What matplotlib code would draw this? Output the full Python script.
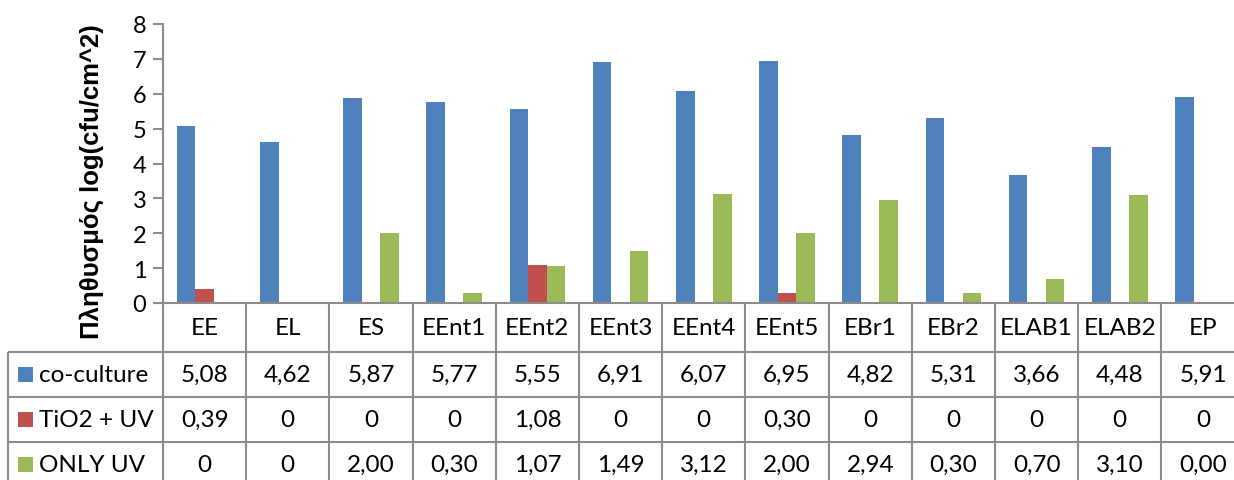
import matplotlib
matplotlib.use("Agg")
import matplotlib.pyplot as plt
from matplotlib.lines import Line2D
from matplotlib.patches import Rectangle
import numpy as np

plt.rcParams['font.family'] = ['Lato', 'Noto Sans', 'DejaVu Sans']

categories = ["EE", "EL", "ES", "EEnt1", "EEnt2", "EEnt3", "EEnt4", "EEnt5",
              "EBr1", "EBr2", "ELAB1", "ELAB2", "EP"]
series_names = ["co-culture", "TiO2 + UV", "ONLY UV"]
co_culture = ["5,08", "4,62", "5,87", "5,77", "5,55", "6,91", "6,07", "6,95",
              "4,82", "5,31", "3,66", "4,48", "5,91"]
tio2_uv = ["0,39", "0", "0", "0", "1,08", "0", "0", "0,30",
           "0", "0", "0", "0", "0"]
only_uv = ["0", "0", "2,00", "0,30", "1,07", "1,49", "3,12", "2,00",
           "2,94", "0,30", "0,70", "3,10", "0,00"]
colors = ["#4F81BD", "#C0504D", "#9BBB59"]
y_ticks = [0, 1, 2, 3, 4, 5, 6, 7, 8]
y_label = "Πληθυσμός log(cfu/cm^2)"

W, H = 1234, 481
fig = plt.figure(figsize=(W / 100, H / 100), dpi=100)

def fx(px):
    return px / W

def fy(py):
    return 1 - py / H

# plot area geometry in pixels
x0, col_w = 163, 83.2
y_top, y_base = 25, 304
n = len(categories)
x1 = x0 + n * col_w

ax = fig.add_axes([fx(x0), fy(y_base), fx(x1) - fx(x0), fy(y_top) - fy(y_base)])
ax.set_xlim(-0.5, n - 0.5)
ax.set_ylim(0, 8)

grid_c = "#8C8C8C"
series_text = [co_culture, tio2_uv, only_uv]
series_vals = [[float(s.replace(",", ".")) for s in col] for col in series_text]

bw = 1 / 4.5
x = np.arange(n)
for i, vals in enumerate(series_vals):
    ax.bar(x + (i - 1) * bw, vals, width=bw, color=colors[i], linewidth=0)

for side in ["top", "right", "bottom"]:
    ax.spines[side].set_visible(False)
ax.spines["left"].set_color(grid_c)
ax.spines["left"].set_linewidth(1.5)
ax.set_xticks([])
ax.set_yticks(y_ticks)
ax.tick_params(axis="y", length=7, width=1.5, color=grid_c, pad=5,
               labelsize=17)
ax.patch.set_alpha(0)

fig.text(fx(92), fy(182), y_label, rotation=90, ha="center", va="center",
         fontsize=18.5, fontweight="bold",
         family=["Liberation Sans", "DejaVu Sans"])

# data table below the plot
row_y = [304, 353, 398, 443, 488]
leg_x = 8
lkw = dict(color=grid_c, linewidth=1.5, transform=fig.transFigure,
           solid_capstyle="butt")
# horizontal rules
fig.add_artist(Line2D([fx(153), fx(x1)], [fy(row_y[0])] * 2, **lkw))
for yy in row_y[1:]:
    fig.add_artist(Line2D([fx(leg_x), fx(x1)], [fy(yy)] * 2, **lkw))
# vertical rules
for k in range(n + 1):
    xx = x0 + k * col_w
    fig.add_artist(Line2D([fx(xx)] * 2, [fy(row_y[0]), fy(row_y[-1])], **lkw))
fig.add_artist(Line2D([fx(leg_x)] * 2, [fy(row_y[1]), fy(row_y[-1])], **lkw))

fs = 17.5
for k, cat in enumerate(categories):
    cx = x0 + (k + 0.5) * col_w
    fig.text(fx(cx), fy((row_y[0] + row_y[1]) / 2), cat, ha="center",
             va="center", fontsize=fs)
    for r, col in enumerate(series_text):
        cy = (row_y[r + 1] + row_y[r + 2]) / 2
        fig.text(fx(cx), fy(cy), col[k], ha="center", va="center", fontsize=fs)

for r, name in enumerate(series_names):
    cy = (row_y[r + 1] + row_y[r + 2]) / 2
    sq = 15
    fig.add_artist(Rectangle((fx(18), fy(cy + sq / 2)), fx(sq), fy(0) - fy(sq),
                             transform=fig.transFigure, color=colors[r],
                             linewidth=0))
    fig.text(fx(39), fy(cy), name, ha="left", va="center", fontsize=fs)

fig.savefig("out.png", dpi=100)
